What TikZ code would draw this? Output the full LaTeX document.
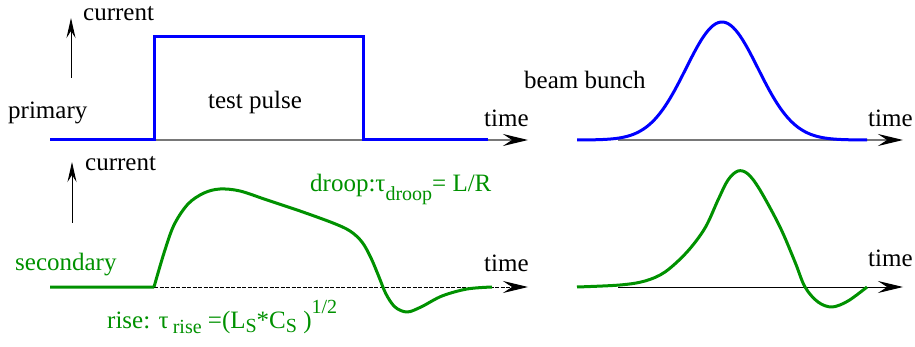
\documentclass[tikz,border=0pt]{standalone}
\usepackage{fontspec}
\setmainfont{Liberation Serif}
\newfontfamily\figfont{Liberation Serif}
\usetikzlibrary{arrows.meta}
\definecolor{pulseblue}{RGB}{0,0,255}
\definecolor{sigreen}{RGB}{0,145,0}
\definecolor{axisgray}{RGB}{120,120,120}
\newcommand{\subsz}{\fontsize{20}{21}\selectfont}
\begin{document}
\begin{tikzpicture}[x=1pt,y=-1pt,
  lbl/.style={inner sep=0pt, font=\figfont\fontsize{25}{29}\selectfont},
  glbl/.style={lbl, text=sigreen},
  haxis/.style={line width=1.3pt, -{Stealth[length=25pt,width=12pt,inset=9pt,color=black]}},
  vaxis/.style={line width=1pt, -{Stealth[length=20pt,width=9pt,inset=7pt]}},
  bluecurve/.style={pulseblue, line width=3pt},
  greencurve/.style={sigreen, line width=3pt, line join=round}]
\useasboundingbox (0,0) rectangle (915,347);

% ---------- top-left: primary test pulse ----------
\coordinate (tlA) at (50,140);
\coordinate (tlE) at (528,140);
\draw[haxis, axisgray] (tlA) -- (tlE);
\draw[bluecurve] (50,140) -- (154,140) -- (154,37) -- (363,37) -- (363,140) -- (488,140);
\coordinate (va1a) at (71,78);
\coordinate (va1b) at (71,18);
\draw[vaxis] (va1a) -- (va1b);
\node[lbl, anchor=west] (cur1) at (83,14) {current};
\node[lbl, anchor=west] (prim) at (8,113) {primary};
\node[lbl] (tp) at (255,102) {test pulse};
\node[lbl, anchor=west] (time1) at (484,118) {time};

% ---------- bottom-left: secondary ----------
\coordinate (blA) at (154,287);
\coordinate (blE) at (528,287);
\draw[haxis, line width=1pt, dash pattern=on 4pt off 1.5pt] (blA) -- (blE);
\draw[greencurve] (50,287) -- (154,287)
  plot[smooth, tension=0.55] coordinates {(154,287) (164,253) (174,225) (188,204) (204,193) (220,189) (240,191) (267,200) (300,211) (333,223) (350,231) (362,242) (371,258) (379,277) (386,294) (395,307) (407,312) (421,307) (442,296) (467,289) (492,287)};
\coordinate (va2a) at (72,223);
\coordinate (va2b) at (72,162);
\draw[vaxis] (va2a) -- (va2b);
\node[lbl, anchor=west] (cur2) at (85,164) {current};
\node[glbl, anchor=west] (sec) at (15,265) {secondary};
\node[lbl, anchor=west] (time2) at (484,263) {time};
\node[glbl, anchor=base west] (droop) at (310,192)
  {droop:τ\raisebox{-9pt}{\subsz droop}= L/R};
\node[glbl, anchor=base west] (rise) at (107,328)
  {rise: τ\,\raisebox{-5pt}{\subsz rise} =(L\raisebox{-4pt}{\subsz S}*C\raisebox{-4pt}{\subsz S} )\raisebox{15pt}{\subsz 1/2}};

% ---------- top-right: beam bunch ----------
\coordinate (trA) at (618,140);
\coordinate (trE) at (903,140);
\draw[haxis, axisgray] (trA) -- (trE);
\draw[bluecurve] plot[domain=577:867, samples=120] (\x, {140-118*exp(-((\x-722)/36)^2/2)});
\node[lbl, anchor=west] (bb) at (524,80) {beam bunch};
\node[lbl, anchor=west] (time3) at (868,118) {time};

% ---------- bottom-right: bipolar signal ----------
\coordinate (brA) at (618,287);
\coordinate (brE) at (903,287);
\draw[haxis, line width=1pt] (brA) -- (brE);
\draw[greencurve] plot[smooth, tension=0.55] coordinates {(577,287) (620,285) (645,281) (665,272) (687,252) (705,228) (718,200) (728,180) (738,171) (748,174) (760,190) (780,227) (795,262) (805,287) (818,302) (832,307) (848,301) (867,287)};
\node[lbl, anchor=west] (time4) at (868,258) {time};
\end{tikzpicture}
\end{document}
